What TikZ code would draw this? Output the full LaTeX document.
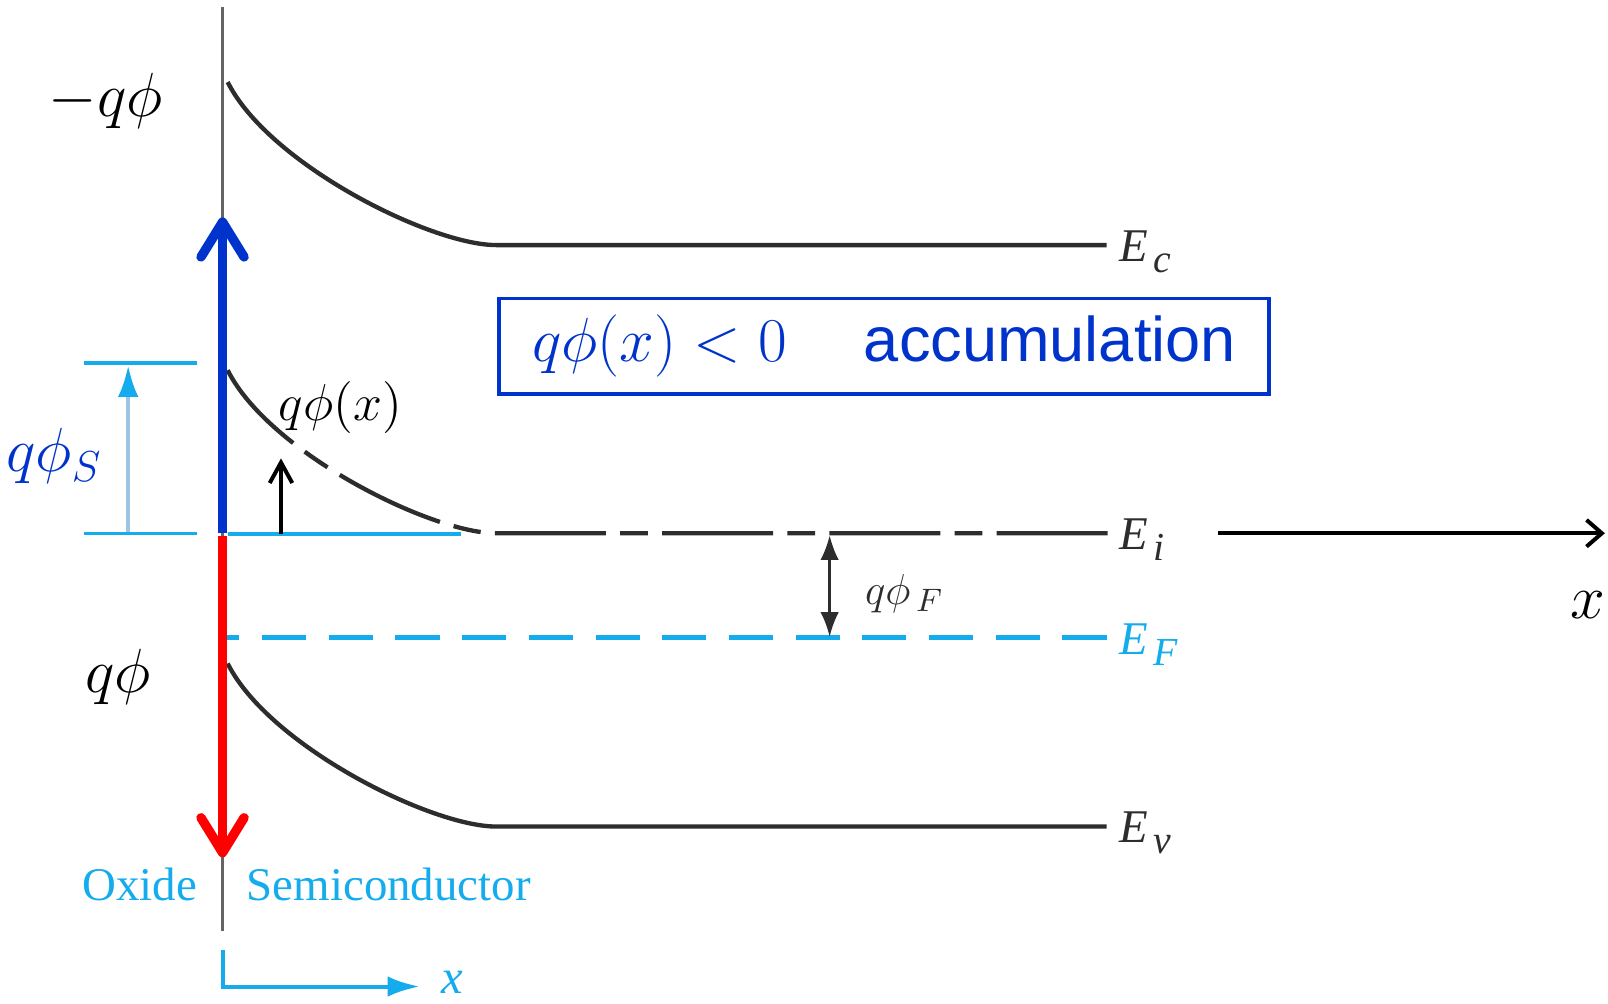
\documentclass[tikz,border=0pt]{standalone}
\usepackage{fontspec}
\setmainfont{Liberation Serif}
\setsansfont{Liberation Sans}
\usetikzlibrary{arrows.meta}
\definecolor{bandgray}{RGB}{45,45,45}
\definecolor{wallgray}{RGB}{100,100,100}
\definecolor{accblue}{RGB}{0,51,204}
\definecolor{skycyan}{RGB}{20,172,236}
\definecolor{paleblue}{RGB}{157,195,230}
\newcommand{\bandlabel}[1]{\textit{E}\kern1.5pt\raisebox{-3pt}{\fontsize{11}{11}\selectfont\textit{#1}}}

\begin{document}
\begin{tikzpicture}[x=0.01cm,y=-0.01cm,
  band/.style={bandgray,line width=1.2pt},
  lbl/.style={anchor=base west,inner sep=0pt,text=bandgray,font=\fontsize{13}{13}\selectfont},
  bigmath/.style={inner sep=0pt,font=\fontsize{17.5}{20}\selectfont},
  barb/.style={-{Straight Barb[length=3.4mm,width=4.2mm,round]}}]
\useasboundingbox (0,0) rectangle (1568,979);

\draw[wallgray,line width=1pt] (217,7) -- (217,908);

\foreach \yy/\sub in {239/c,806/v}{
  \draw[band] (222,\yy-159) .. controls +(40,80) and +(-64,0) .. (484,\yy) -- (1079,\yy);
  \node[lbl] (E\sub) at (1091,\yy+16) {\bandlabel{\sub}};
}
\draw[band,dash pattern=on 1.08cm off 0.14cm on 0.27cm off 0.14cm]
  (1080,520) -- (484,520) .. controls (420,520) and (262,441) .. (222,361);
\node[lbl] (Ei) at (1091,536) {\bandlabel{i}};

\draw[skycyan,line width=1.4pt,dash pattern=on 0.43cm off 0.22cm] (1079,622) -- (221,622);
\node[lbl,text=skycyan] (EF) at (1091,638) {\bandlabel{F}};
\draw[skycyan,line width=1pt] (222,521) -- (450,521);

\coordinate (fi) at (809,522);
\coordinate (ff) at (809,621);
\draw[bandgray,line width=0.7pt,{Latex[length=2.4mm,width=1.8mm]}-{Latex[length=2.4mm,width=1.8mm]}] (fi) -- (ff);
\node[text=bandgray,font=\fontsize{13}{13}\selectfont] (phif) at (882,579) {$q\phi_{\,F}$};

\draw[skycyan,line width=0.9pt] (82,354) -- (192,354) (82,520) -- (192,520);
\coordinate (sb) at (125,519);
\coordinate (st) at (125,356);
\draw[paleblue,line width=1.2pt,-{Latex[length=3.1mm,width=2mm,color=skycyan]}] (sb) -- (st);
\node[bigmath,text=accblue] (phis) at (53,445) {$q\phi_S$};

\coordinate (xb) at (274,521);
\coordinate (xt) at (274,447);
\draw[line width=1.1pt,-{Straight Barb[length=2mm,width=2.2mm]}] (xb) -- (xt);
\node[inner sep=0pt,font=\fontsize{14.5}{16}\selectfont] (phix) at (332,397) {$q\phi(x)$};

\coordinate (mid) at (217,520);
\coordinate (top) at (217,212);
\coordinate (mid2) at (217,523);
\coordinate (bot) at (217,836);
\draw[accblue,line width=2.6pt,barb] (mid) -- (top);
\draw[red,line width=2.6pt,barb] (mid2) -- (bot);
\node[bigmath] (negphi) at (103,98) {$-q\phi$};
\node[bigmath] (posphi) at (115,660) {$q\phi$};

\node[draw=accblue,line width=1pt,text=accblue,minimum width=7.5cm,minimum height=0.93cm,
  font=\fontsize{17.5}{20}\selectfont] (acc) at (862,337.5)
  {$q\phi(x) < 0$\hspace{0.75cm}\sffamily accumulation};

\coordinate (ax0) at (1188,520);
\coordinate (ax1) at (1565,520);
\draw[line width=1.1pt,-{Straight Barb[length=1.5mm,width=2.6mm]}] (ax0) -- (ax1);
\node[bigmath] (xlab) at (1548,590) {$x$};

\node[anchor=east,inner sep=0pt,text=skycyan,font=\fontsize{13}{13}\selectfont] (oxide) at (193,862) {Oxide};
\node[anchor=west,inner sep=0pt,text=skycyan,font=\fontsize{13}{13}\selectfont] (semi) at (240,862) {Semiconductor};

\coordinate (o0) at (217,926);
\coordinate (o1) at (409,962);
\draw[skycyan,line width=1.1pt,-{Latex[length=3.1mm,width=2mm]}] (o0) |- (o1);
\node[inner sep=0pt,text=skycyan,font=\fontsize{13.5}{13.5}\selectfont] (olab) at (441,958) {\textit{x}};
\end{tikzpicture}
\end{document}
